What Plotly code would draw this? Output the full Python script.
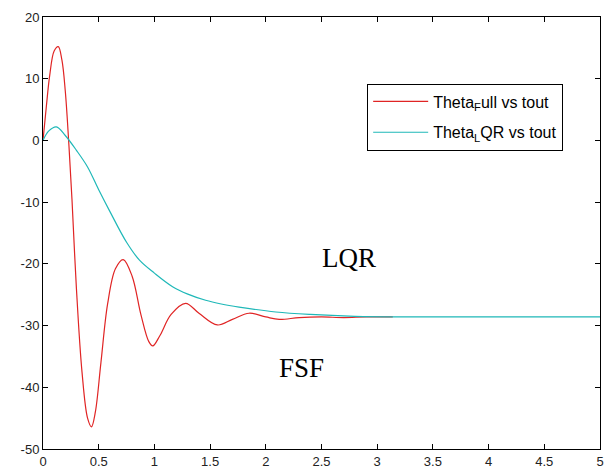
import plotly.graph_objects as go

# Theta_Full vs tout (red)
t_full = [0.0, 0.03, 0.06, 0.1, 0.137, 0.17, 0.2, 0.23, 0.26, 0.3, 0.35, 0.4, 0.435, 0.47,
          0.52, 0.58, 0.65, 0.72, 0.8, 0.88, 0.95, 0.985, 1.05, 1.15, 1.28, 1.4, 1.565, 1.7,
          1.85, 2.0, 2.12, 2.3, 2.5, 2.7, 2.9, 3.14]
theta_full = [0.0, 5.5, 10.5, 14.5, 15.2, 13.0, 8.0, 0.0, -9.5, -24.0, -37.5, -45.0, -46.4, -44.0,
              -36.0, -26.5, -20.8, -19.3, -22.0, -28.3, -32.6, -33.3, -31.6, -28.2, -26.4, -28.0, -29.9, -29.0,
              -28.0, -28.6, -29.0, -28.7, -28.6, -28.7, -28.6, -28.6]

# Theta_LQR vs tout (cyan)
t_lqr = [0.0, 0.05, 0.12, 0.2, 0.3, 0.4, 0.5, 0.6, 0.75, 0.866, 1.0, 1.163, 1.3, 1.46,
         1.6, 1.76, 2.09, 2.4, 2.8, 3.2, 4.0, 5.0]
theta_lqr = [0.0, 1.5, 2.2, 0.8, -1.6, -4.3, -8.0, -11.5, -16.5, -19.4, -21.5, -23.7, -24.9, -25.9,
             -26.5, -27.0, -27.8, -28.2, -28.5, -28.6, -28.6, -28.6]

x_ticks = [0, 0.5, 1, 1.5, 2, 2.5, 3, 3.5, 4, 4.5, 5]
x_labels = ["0", "0.5", "1", "1.5", "2", "2.5", "3", "3.5", "4", "4.5", "5"]
y_ticks = [-50, -40, -30, -20, -10, 0, 10, 20]
y_labels = ["-50", "-40", "-30", "-20", "-10", "0", "10", "20"]

notes = [("LQR", 2.75, -19.1), ("FSF", 2.32, -36.8)]

fig = go.Figure()
fig.add_trace(go.Scatter(x=t_full, y=theta_full, mode="lines", line_shape="spline",
                         line=dict(color="#e02424", width=1.2), legendgroup="a",
                         name="Theta<sub>F</sub>ull vs tout"))
fig.add_trace(go.Scatter(x=t_lqr, y=theta_lqr, mode="lines", line_shape="spline",
                         line=dict(color="#1fb8b8", width=1.2), legendgroup="b",
                         name="Theta<sub>L</sub>QR vs tout"))

for txt, xx, yy in notes:
    fig.add_annotation(x=xx, y=yy, text=txt, showarrow=False,
                       font=dict(family="Liberation Serif", size=27, color="black"))

axis_common = dict(showgrid=False, zeroline=False, showline=True, linecolor="black", linewidth=1,
                   mirror="allticks", ticks="inside", ticklen=5, tickcolor="black",
                   ticklabeloverflow="allow",
                   tickfont=dict(family="Liberation Sans, Arial", size=13, color="#222"))

fig.update_xaxes(range=[0, 5], tickvals=x_ticks, ticktext=x_labels, **axis_common)
fig.update_yaxes(range=[-50, 20], tickvals=y_ticks, ticktext=y_labels, **axis_common)

fig.update_layout(
    width=604, height=473,
    margin=dict(l=43, r=0, t=17, b=24),
    paper_bgcolor="white", plot_bgcolor="white",
    showlegend=True,
    legend=dict(x=0.582, y=0.846, xanchor="left", yanchor="top",
                bgcolor="white", bordercolor="black", borderwidth=1,
                font=dict(family="Liberation Sans, Arial", size=16, color="black"),
                itemwidth=55, tracegroupgap=7, traceorder="grouped"),
)

fig.write_html("out.html")
